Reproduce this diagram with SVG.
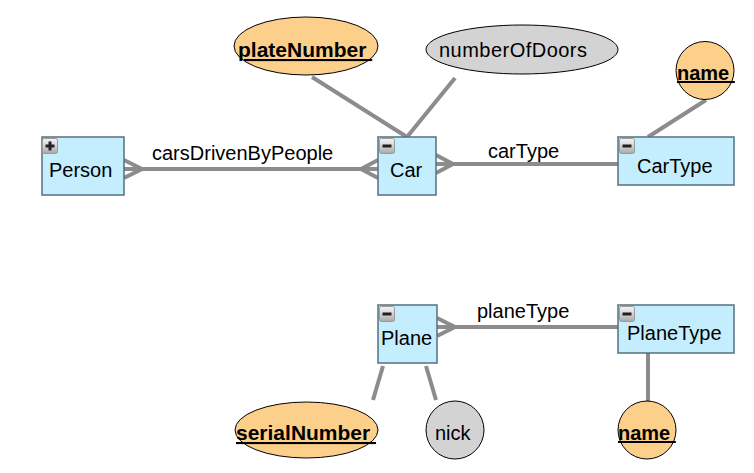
<svg xmlns="http://www.w3.org/2000/svg" width="754" height="473" viewBox="0 0 754 473">
<defs>
<linearGradient id="btn" x1="0" y1="0" x2="0" y2="1">
<stop offset="0" stop-color="#f4f4f4"/>
<stop offset="0.5" stop-color="#d4d4d4"/>
<stop offset="1" stop-color="#a8a8a8"/>
</linearGradient>
<g id="minus"><rect x="0.5" y="0.5" width="15" height="15" rx="2" fill="url(#btn)" stroke="#9a9a9a"/><rect x="3.5" y="6.5" width="9" height="3" fill="#222"/></g>
<g id="plus"><rect x="0.5" y="0.5" width="15" height="15" rx="2" fill="url(#btn)" stroke="#9a9a9a"/><rect x="3.5" y="6.5" width="9" height="3" fill="#222"/><rect x="6.5" y="3.5" width="3" height="9" fill="#222"/></g>
</defs>
<style>
.ent{fill:#c4eefd;stroke:#56707f;stroke-width:1.5}
.key{fill:#fcd08b;stroke:#000;stroke-width:1}
.att{fill:#d3d3d3;stroke:#000;stroke-width:1}
.t{font-family:"Liberation Sans",Arial,sans-serif;font-size:20px;fill:#000}
.b{font-family:"Liberation Sans",Arial,sans-serif;font-size:21px;font-weight:bold;fill:#000;text-decoration:underline;white-space:pre}
.n{font-size:20px}
.c{fill:none;stroke:#8c8c8c;stroke-width:4}
</style>
<rect width="754" height="473" fill="#fff"/>
<g id="connectors">
<line class="c" x1="124" y1="169" x2="378" y2="169"/>
<polyline class="c" points="124,160 142,169 124,178"/>
<polyline class="c" points="378,160 361,169 378,178"/>
<line class="c" x1="436" y1="164" x2="618" y2="164"/>
<polyline class="c" points="436,155 453,164 436,173"/>
<line class="c" x1="312" y1="77" x2="407" y2="137"/>
<line class="c" x1="455" y1="78" x2="407" y2="137"/>
<line class="c" x1="706" y1="100" x2="648" y2="137"/>
<line class="c" x1="437" y1="327" x2="618" y2="327"/>
<polyline class="c" points="437,318 455,327 437,336"/>
<line class="c" x1="383" y1="366" x2="373" y2="400"/>
<line class="c" x1="426" y1="366" x2="436" y2="400"/>
<line class="c" x1="648" y1="353" x2="648" y2="401"/>
<text class="t" x="152" y="160">carsDrivenByPeople</text>
<text class="t" x="488" y="158">carType</text>
<text class="t" x="477" y="318">planeType</text>
</g>
<g id="Person">
<rect class="ent" x="42" y="137" width="82" height="58"/>
<use href="#plus" x="42" y="138"/>
<text class="t" x="49" y="177">Person</text>
</g>
<g id="Car">
<rect class="ent" x="378" y="137" width="58" height="58"/>
<use href="#minus" x="379" y="138"/>
<text class="t" x="390" y="177">Car</text>
</g>
<g id="CarType">
<rect class="ent" x="618" y="137" width="116" height="48"/>
<use href="#minus" x="619" y="138"/>
<text class="t" x="637" y="173">CarType</text>
</g>
<g id="plateNumber">
<ellipse class="key" cx="306" cy="46" rx="72" ry="29"/>
<text class="b" x="238" y="57" xml:space="preserve">plateNumber </text>
</g>
<g id="numberOfDoors">
<ellipse class="att" cx="522" cy="49.5" rx="96" ry="24.5"/>
<text class="t" x="439" y="57" textLength="148">numberOfDoors</text>
</g>
<g id="carTypeName">
<circle class="key" cx="705" cy="70.5" r="29"/>
<text class="b n" x="677" y="80" xml:space="preserve">name </text>
</g>
<g id="Plane">
<rect class="ent" x="378" y="305" width="59" height="58"/>
<use href="#minus" x="379" y="306"/>
<text class="t" x="381" y="345">Plane</text>
</g>
<g id="PlaneType">
<rect class="ent" x="618" y="305" width="116" height="48"/>
<use href="#minus" x="619" y="306"/>
<text class="t" x="627" y="340">PlaneType</text>
</g>
<g id="serialNumber">
<ellipse class="key" cx="306.5" cy="430" rx="71.5" ry="28"/>
<text class="b" x="236" y="440" xml:space="preserve">serialNumber </text>
</g>
<g id="nick">
<circle class="att" cx="455" cy="430" r="29"/>
<text class="t" x="435" y="440">nick</text>
</g>
<g id="planeTypeName">
<circle class="key" cx="647" cy="430" r="29"/>
<text class="b n" x="618" y="440" xml:space="preserve">name </text>
</g>
</svg>
